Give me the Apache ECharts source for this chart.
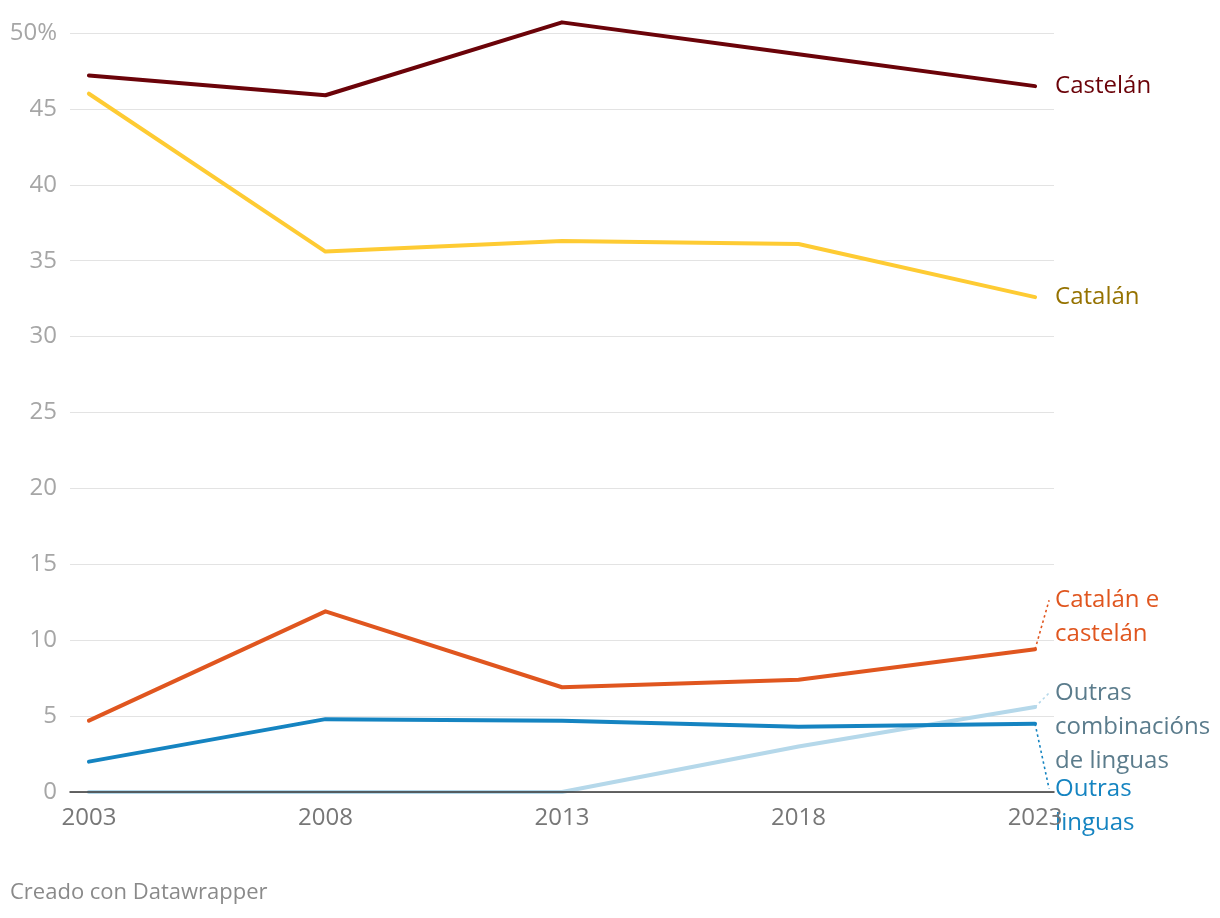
<!DOCTYPE html>
<html><head><meta charset="utf-8">
<script src="https://cdn.jsdelivr.net/npm/echarts@6/dist/echarts.min.js"></script>
<style>html,body{margin:0;padding:0;background:#fff}#c{width:1220px;height:918px}</style>
</head><body><div id="c"></div>
<script>
const years = [2003, 2008, 2013, 2018, 2023];
const castelan = [47.2, 45.9, 50.7, 48.6, 46.5];
const catalan = [46.0, 35.6, 36.3, 36.1, 32.6];
const catalanECastelan = [4.7, 11.9, 6.9, 7.4, 9.4];
const outrasLinguas = [2.0, 4.8, 4.7, 4.3, 4.5];
const outrasCombinacions = [0, 0, 0, 3.0, 5.6];
const xTickLabels = ['2003', '2008', '2013', '2018', '2023'];
const seriesNames = ['Outras combinacións de linguas', 'Outras linguas', 'Catalán e castelán', 'Catalán', 'Castelán'];
const seriesLabels = ['Outras\ncombinacións\nde linguas', 'Outras\nlinguas', 'Catalán e\ncastelán', 'Catalán', 'Castelán'];
const seriesValues = [outrasCombinacions, outrasLinguas, catalanECastelan, catalan, castelan];

const lineColors = ['#b5d8ea', '#1584c1', '#e0561f', '#fecb33', '#6b0309'];
const labelColors = ['#5b7c8c', '#1584c1', '#e0561f', '#957200', '#6b0309'];
const labelDy = [-14, 65, -49, 0, 0];
const FONT = '"Open Sans", "Noto Sans", sans-serif';

const chart = echarts.init(document.getElementById('c'), null, {renderer: 'canvas'});
chart.setOption({
  animation: false,
  backgroundColor: '#fff',
  grid: {left: 70, right: 166, top: 33, bottom: 126, containLabel: false},
  xAxis: {
    type: 'value', min: 2002.6, max: 2023.4, z: 20,
    axisLine: {show: true, onZero: false, lineStyle: {color: '#333', width: 1.5}},
    axisTick: {show: false}, splitLine: {show: false},
    axisLabel: {
      show: true, color: '#777', fontSize: 24, fontFamily: FONT, margin: 14,
      customValues: years,
      formatter: v => xTickLabels[years.indexOf(Math.round(v))] || ''
    }
  },
  yAxis: {
    type: 'value', min: 0, max: 50, interval: 5,
    axisLine: {show: false}, axisTick: {show: false},
    splitLine: {lineStyle: {color: '#e3e3e3', width: 1}},
    axisLabel: {
      color: '#a6a6a6', fontSize: 24, fontFamily: FONT, margin: 13,
      formatter: v => v === 50 ? '50%' : String(v)
    }
  },
  series: seriesValues.map((vals, i) => ({
    name: seriesNames[i], type: 'line', symbol: 'none', z: 3 + i, clip: false,
    data: years.map((y, j) => [y, vals[j]]),
    lineStyle: {color: lineColors[i], width: 4, cap: 'round', join: 'round'},
    itemStyle: {color: lineColors[i]}
  }))
});

const graphics = [];
seriesValues.forEach((vals, i) => {
  const p = chart.convertToPixel({xAxisIndex: 0, yAxisIndex: 0}, [years[years.length - 1], vals[vals.length - 1]]);
  const ly = p[1] + labelDy[i];
  if (Math.abs(labelDy[i]) > 2) {
    graphics.push({
      type: 'line', z: 10,
      shape: {x1: p[0], y1: p[1], x2: p[0] + 14, y2: ly},
      style: {stroke: lineColors[i], lineWidth: 1.6, lineDash: [2.5, 3]}
    });
  }
  graphics.push({
    type: 'text', z: 11, x: p[0] + 20, y: ly - 17,
    style: {text: seriesLabels[i], fill: labelColors[i], font: '24px ' + FONT, lineHeight: 34, verticalAlign: 'top', align: 'left'}
  });
});
graphics.push({
  type: 'text', x: 10, y: 893,
  style: {text: 'Creado con Datawrapper', fill: '#8a8a8a', font: '22px ' + FONT, verticalAlign: 'middle'}
});
chart.setOption({graphic: graphics});
</script></body></html>
